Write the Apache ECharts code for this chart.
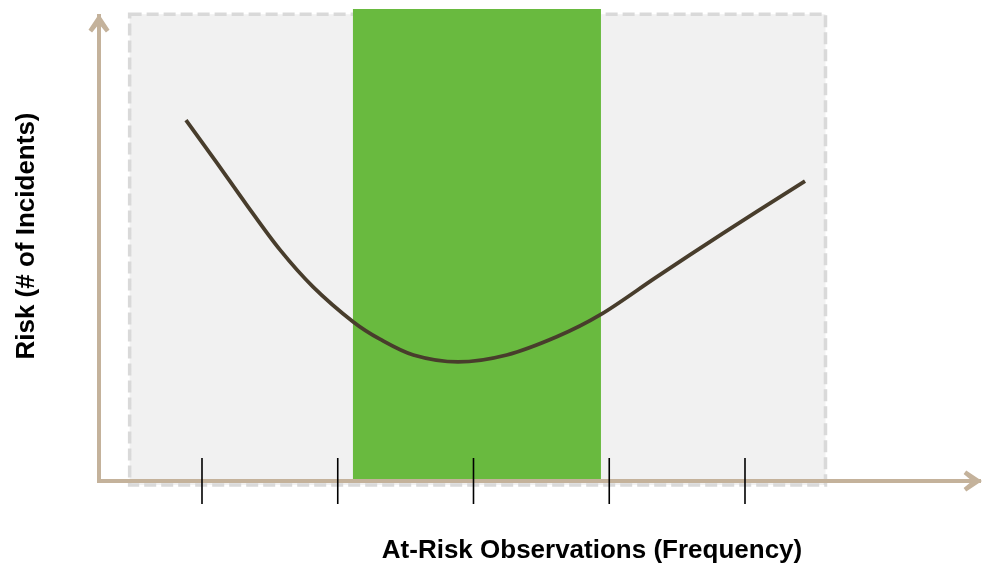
<!DOCTYPE html>
<html>
<head>
<meta charset="utf-8">
<script src="https://cdn.jsdelivr.net/npm/echarts@6/dist/echarts.min.js"></script>
<style>
  html, body { margin: 0; padding: 0; background: #fff; }
  #chart { width: 983px; height: 566px; }
</style>
</head>
<body>
<div id="chart"></div>
<script>
var curveX = [0.882, 1.103, 1.329, 1.575, 1.820, 2.115, 2.311, 2.557, 2.886, 3.245, 3.613, 3.932, 4.350, 4.840, 5.442];
var curveY = [7.76, 6.87, 5.94, 4.97, 4.17, 3.42, 3.05, 2.71, 2.56, 2.71, 3.10, 3.57, 4.39, 5.33, 6.45];

// tick positions on the frequency axis
var tickValues = [1, 2, 3, 4, 5];

// shaded zones: [xStart, xEnd, yStart, yEnd]
var plotZone = [0.467, 5.593, -0.086, 10.04];
var optimalBand = [2.112, 3.939, 0.02, 10.15];

var xMin = 0.2413, xMax = 6.7238;

var axisColor = '#c4b29b';
var arrowPath = 'path://M10 0 L20 15 L16.6 17.5 L10 9.5 L3.4 17.5 L0 15 Z';

function rectItem(fill, stroke) {
  return function (params, api) {
    var p0 = api.coord([api.value(0), api.value(3)]);
    var p1 = api.coord([api.value(1), api.value(2)]);
    return {
      type: 'rect',
      shape: { x: p0[0], y: p0[1], width: p1[0] - p0[0], height: p1[1] - p0[1] },
      style: stroke ? { fill: fill, stroke: stroke, lineWidth: 3.5, lineDash: [12, 5] } : { fill: fill }
    };
  };
}

var chart = echarts.init(document.getElementById('chart'));
var option = {
  animation: false,
  grid: { left: 99, right: 4, top: 16, bottom: 85, outerBoundsMode: 'none', containLabel: false },
  xAxis: {
    type: 'value', min: xMin, max: xMax, z: 5,
    name: 'At-Risk Observations (Frequency)',
    nameLocation: 'middle', nameGap: 57,
    nameTextStyle: { fontFamily: 'Liberation Sans', fontWeight: 'bold', fontSize: 26, color: '#000', padding: [0, 0, 0, 106] },
    axisLine: {
      show: true, onZero: false,
      lineStyle: { color: axisColor, width: 4, cap: 'square' },
      symbol: ['none', arrowPath], symbolSize: [21, 18.4], symbolOffset: [0, -6.2]
    },
    axisTick: { show: false }, axisLabel: { show: false }, splitLine: { show: false }
  },
  yAxis: {
    type: 'value', min: 0, max: 10, z: 5,
    name: 'Risk (# of Incidents)',
    nameLocation: 'middle', nameGap: 59,
    nameTextStyle: { fontFamily: 'Liberation Sans', fontWeight: 'bold', fontSize: 26, color: '#000', padding: [0, 0, 0, 25] },
    axisLine: {
      show: true, onZero: false,
      lineStyle: { color: axisColor, width: 4, cap: 'square' },
      symbol: ['none', arrowPath], symbolSize: [21, 18.4], symbolOffset: [0, -7.2]
    },
    axisTick: { show: false }, axisLabel: { show: false }, splitLine: { show: false }
  },
  series: [
    {
      type: 'custom', z: 1, clip: false, silent: true,
      renderItem: rectItem('#f1f1f1', '#d9d9d9'),
      data: [plotZone]
    },
    {
      type: 'custom', z: 2, clip: false, silent: true,
      renderItem: rectItem('#69ba3f'),
      data: [optimalBand]
    },
    {
      type: 'line', z: 4, smooth: 0.33, showSymbol: false, silent: true,
      lineStyle: { color: '#483d2c', width: 3.8 },
      data: curveX.map(function (x, i) { return [x, curveY[i]]; })
    },
    {
      type: 'custom', z: 6, clip: false, silent: true,
      renderItem: function (params, api) {
        var p = api.coord([api.value(0), 0]);
        return {
          type: 'line',
          shape: { x1: p[0], y1: p[1] - 23, x2: p[0], y2: p[1] + 23 },
          style: { stroke: '#000', lineWidth: 1.6 }
        };
      },
      data: tickValues.map(function (v) { return [v]; })
    }
  ]
};
chart.setOption(option);
window.addEventListener('resize', function () { chart.resize(); });
</script>
</body>
</html>
